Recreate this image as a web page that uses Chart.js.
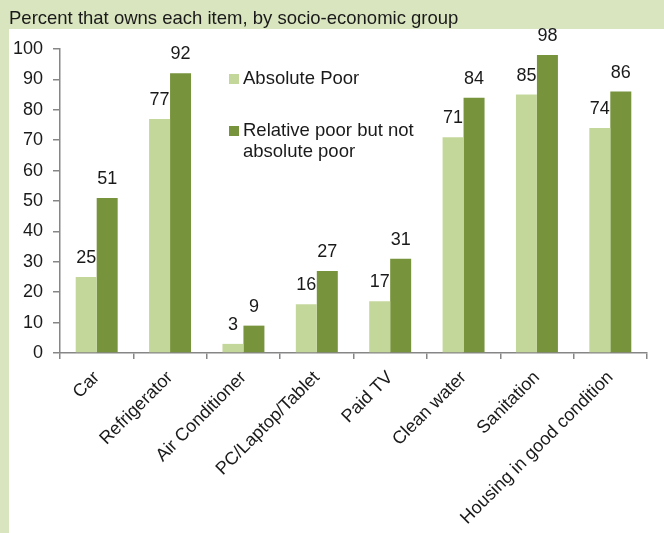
<!DOCTYPE html>
<html><head><meta charset="utf-8">
<script src="https://cdn.jsdelivr.net/npm/chart.js@4/dist/chart.umd.min.js"></script>
<style>html,body{margin:0;padding:0;background:#d9e5bf;}#wrap{width:664px;height:533px;position:relative;}</style>
</head><body><div id="wrap"><canvas id="c" width="664" height="533"></canvas></div>
<script>
const categories = ["Car","Refrigerator","Air Conditioner","PC/Laptop/Tablet","Paid TV","Clean water","Sanitation","Housing in good condition"];
const absolutePoor = [25,77,3,16,17,71,85,74];
const relativePoor = [51,92,9,27,31,84,98,86];
const yTicks = [0,10,20,30,40,50,60,70,80,90,100];
const seriesNames = ["Absolute Poor", ["Relative poor but not", "absolute poor"]];
const titleText = "Percent that owns each item, by socio-economic group";

const FONT = "Liberation Sans, Arial, sans-serif";
const bg = {
  id:'bg',
  beforeDraw(chart){
    const ctx = chart.ctx;
    ctx.save();
    ctx.fillStyle = '#d9e5bf';
    ctx.fillRect(0,0,chart.width,chart.height);
    ctx.fillStyle = '#ffffff';
    ctx.fillRect(9,29,chart.width-9,chart.height-29);
    ctx.fillStyle = '#1a1a1a';
    ctx.font = '18.5px ' + FONT;
    ctx.textBaseline = 'alphabetic';
    ctx.textAlign = 'left';
    ctx.fillText(titleText, 9, 24);
    ctx.restore();
  }
};
const valueLabels = {
  id:'valueLabels',
  afterDatasetsDraw(chart){
    const ctx = chart.ctx;
    ctx.save();
    ctx.font = '18px ' + FONT;
    ctx.fillStyle = '#1a1a1a';
    ctx.textAlign = 'center';
    ctx.textBaseline = 'alphabetic';
    chart.data.datasets.forEach((ds,i)=>{
      const meta = chart.getDatasetMeta(i);
      meta.data.forEach((bar,j)=>{
        ctx.fillText(String(Math.round(ds.data[j])), bar.x, bar.y - 14);
      });
    });
    ctx.restore();
  }
};
const customLegend = {
  id:'customLegend',
  afterDraw(chart){
    const ctx = chart.ctx;
    ctx.save();
    ctx.font = '18.5px ' + FONT;
    ctx.textBaseline = 'middle';
    ctx.textAlign = 'left';
    const pos = [79, 131];
    chart.data.datasets.forEach((ds,i)=>{
      const y = pos[i];
      ctx.fillStyle = ds.backgroundColor;
      ctx.fillRect(229, y-5, 10, 10);
      ctx.fillStyle = '#1a1a1a';
      const lines = Array.isArray(ds.label) ? ds.label : [ds.label];
      lines.forEach((t,k)=>ctx.fillText(t, 243, y + k*21));
    });
    ctx.restore();
  }
};

new Chart(document.getElementById('c'), {
  type:'bar',
  data:{
    labels: categories,
    datasets:[
      {label: seriesNames[0], data: absolutePoor, backgroundColor:'#c4d79b', borderWidth:0, categoryPercentage:0.572, barPercentage:1},
      {label: seriesNames[1], data: relativePoor, backgroundColor:'#77933c', borderWidth:0, categoryPercentage:0.572, barPercentage:1}
    ]
  },
  options:{
    responsive:false,
    animation:false,
    devicePixelRatio:1,
    layout:{padding:{top:49,right:17,left:0,bottom:0}},
    plugins:{legend:{display:false},title:{display:false},tooltip:{enabled:false}},
    scales:{
      x:{
        grid:{display:true,drawOnChartArea:false,drawTicks:true,tickLength:6,color:'#868686',lineWidth:1.5,offset:true},
        border:{display:true,color:'#868686',width:1.5},
        ticks:{font:{family:FONT,size:18},color:'#1a1a1a',maxRotation:45,minRotation:45,autoSkip:false,padding:8},
        afterFit(s){ s.height = 180; }
      },
      y:{
        min:0,max:100,
        afterBuildTicks(s){ s.ticks = yTicks.map(v=>({value:v})); },
        grid:{display:true,drawOnChartArea:false,drawTicks:true,tickLength:7,color:'#868686',lineWidth:1.5},
        border:{display:true,color:'#868686',width:1.5},
        ticks:{font:{family:FONT,size:18},color:'#1a1a1a',padding:10},
        afterFit(s){ s.width = 60; }
      }
    }
  },
  plugins:[bg,valueLabels,customLegend]
});
</script></body></html>
